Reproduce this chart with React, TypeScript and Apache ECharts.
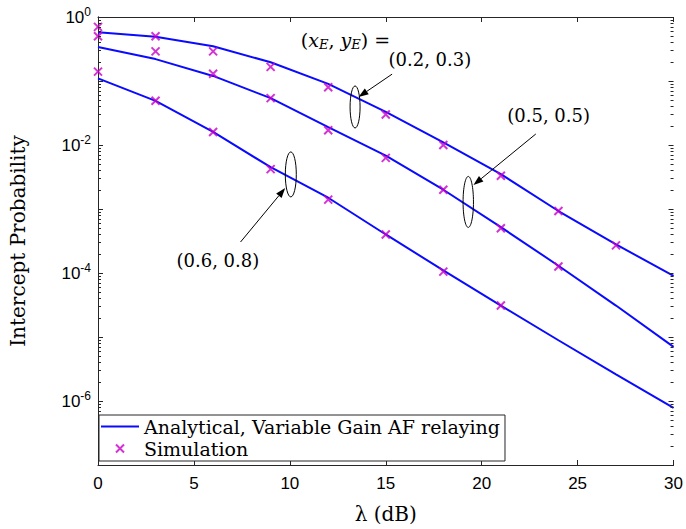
import React, { useEffect, useRef } from 'react';
import * as echarts from 'echarts';

// SNR grid (dB)
const xValues = [0, 3, 6, 9, 12, 15, 18, 21, 24, 27, 30];
// Analytical curves
const analyticalA = [0.58, 0.49, 0.35, 0.196, 0.09, 0.033, 0.011, 0.0035, 9.3e-4, 2.8e-4, 9e-5]; // (0.2,0.3)
const analyticalB = [0.34, 0.22, 0.12, 0.054, 0.019, 0.0068, 0.002, 5.2e-4, 1.3e-4, 3.1e-5, 7e-6]; // (0.5,0.5)
const analyticalC = [0.11, 0.049, 0.016, 4.5e-3, 1.5e-3, 4e-4, 1.1e-4, 3.1e-5, 8.9e-6, 2.6e-6, 7.8e-7]; // (0.6,0.8)
// Simulation points
const simXA = [0, 3, 6, 9, 12, 15, 18, 21, 24, 27];
const simA = [0.7, 0.5, 0.29, 0.166, 0.08, 0.03, 0.01, 0.0033, 9.3e-4, 2.7e-4];
const simXB = [0, 3, 6, 9, 12, 15, 18, 21, 24];
const simB = [0.5, 0.29, 0.13, 0.054, 0.017, 0.0063, 0.002, 5e-4, 1.26e-4];
const simXC = [0, 3, 6, 9, 12, 15, 18, 21];
const simC = [0.14, 0.049, 0.016, 4.2e-3, 1.4e-3, 4e-4, 1.05e-4, 3.1e-5];

const xTicks = [0, 5, 10, 15, 20, 25, 30];
const analyticalName = 'Analytical, Variable Gain AF relaying';
const simName = 'Simulation';

// Annotations in data coordinates
const ellipses = [
  { x: 13.4, y: 0.0393, rx: 5, ry: 21 },
  { x: 19.3, y: 1.29e-3, rx: 5.2, ry: 25.5 },
  { x: 10.05, y: 3.47e-3, rx: 5.5, ry: 22.5 },
];
const arrows = [
  { from: [15.33, 0.128], to: [13.58, 0.0562] },
  { from: [22.82, 0.01486], to: [19.57, 2.37e-3] },
  { from: [7.43, 3.05e-4], to: [9.76, 2.13e-3] },
];
const labels = [
  { x: 12.9, y: 0.44, parts: 'head' },
  { x: 17.3, y: 0.213, text: '(0.2, 0.3)' },
  { x: 23.49, y: 0.0284, text: '(0.5, 0.5)' },
  { x: 6.25, y: 1.55e-4, text: '(0.6, 0.8)' },
];

const BLUE = '#0a0aff';
const MAG = '#c800c8';
const AX = '#262626';
const SERIF = 'DejaVu Serif';
const SANS = 'Liberation Sans';
const XMARK = 'path://M0,0L10,10M10,0L0,10';
const LINEICON = 'path://M0,0L40,0L40,2.2L0,2.2Z';

function zip(xs: number[], ys: number[]) {
  return xs.map((x, i) => [x, ys[i]]);
}

export default function App() {
  const ref = useRef<HTMLDivElement>(null);
  useEffect(() => {
    const chart = echarts.init(ref.current!, null, { renderer: 'svg' });
    const lineSeries = (d: number[]) => ({
      type: 'line',
      name: analyticalName,
      data: zip(xValues, d),
      symbol: 'none',
      showSymbol: false,
      lineStyle: { color: BLUE, width: 2 },
      itemStyle: { color: BLUE },
      xAxisIndex: 0,
      yAxisIndex: 0,
      z: 2,
    });
    const simSeries = (xs: number[], d: number[]) => ({
      type: 'scatter',
      name: simName,
      data: zip(xs, d),
      symbol: XMARK,
      symbolSize: 8,
      itemStyle: { color: MAG, borderColor: MAG, borderWidth: 2 },
      xAxisIndex: 0,
      yAxisIndex: 0,
      z: 3,
    });
    const option: any = {
      animation: false,
      grid: { left: 94, right: 9, top: 17, bottom: 64 },
      legend: {
        data: [
          { name: analyticalName, icon: LINEICON, itemStyle: { color: BLUE } },
          { name: simName },
        ],
        orient: 'vertical',
        left: 99,
        top: 415,
        align: 'left',
        itemWidth: 38,
        itemHeight: 8,
        itemGap: 3,
        padding: [2, 5, 3, 2],
        borderColor: AX,
        borderWidth: 1,
        backgroundColor: '#fff',
        textStyle: { fontFamily: SERIF, fontSize: 19, lineHeight: 18, color: '#000' },
        selectedMode: false,
        z: 10,
      },
      xAxis: [
        {
          type: 'value',
          min: 0,
          max: 30,
          interval: 5,
          position: 'bottom',
          name: 'λ (dB)',
          nameLocation: 'middle',
          nameGap: 39,
          nameTextStyle: { fontFamily: SERIF, fontSize: 20, color: '#000' },
          axisLine: { show: true, lineStyle: { color: AX, width: 1 } },
          axisTick: { show: true, inside: true, length: 5, lineStyle: { color: AX } },
          axisLabel: {
            fontFamily: SANS,
            fontSize: 17,
            color: '#000',
            margin: 10,
            formatter: (v: number) => (xTicks.includes(v) ? String(v) : ''),
          },
          splitLine: { show: false },
        },
        {
          type: 'value',
          min: 0,
          max: 30,
          interval: 5,
          position: 'top',
          axisLine: { show: true, lineStyle: { color: AX, width: 1 } },
          axisTick: { show: true, inside: true, length: 5, lineStyle: { color: AX } },
          axisLabel: { show: false },
          splitLine: { show: false },
        },
      ],
      yAxis: [
        {
          type: 'log',
          logBase: 10,
          min: 1e-7,
          max: 1,
          position: 'left',
          name: 'Intercept Probability',
          nameLocation: 'middle',
          nameGap: 70,
          nameRotate: 90,
          nameTextStyle: { fontFamily: SERIF, fontSize: 20, color: '#000' },
          axisLine: { show: true, lineStyle: { color: AX, width: 1 } },
          axisTick: { show: false },
          axisLabel: {
            margin: 7,
            formatter: (v: number) => {
              const e = Math.round(Math.log10(v));
              return e % 2 === 0 ? `{b|10}{s|${e}}` : '';
            },
            rich: {
              b: { fontFamily: SANS, fontSize: 17, color: '#000' },
              s: { fontFamily: SANS, fontSize: 12, color: '#000', verticalAlign: 'bottom', padding: [0, 0, 10, 0] },
            },
          },
          splitLine: { show: false },
        },
        {
          type: 'log',
          logBase: 10,
          min: 1e-7,
          max: 1,
          position: 'right',
          axisLine: { show: true, lineStyle: { color: AX, width: 1 } },
          axisTick: { show: false },
          axisLabel: { show: false },
          splitLine: { show: false },
        },
      ],
      series: [
        lineSeries(analyticalA),
        lineSeries(analyticalB),
        lineSeries(analyticalC),
        simSeries(simXA, simA),
        simSeries(simXB, simB),
        simSeries(simXC, simC),
      ],
    };
    chart.setOption(option);

    const toPx = (p: number[]) => chart.convertToPixel({ xAxisIndex: 0, yAxisIndex: 0 }, p) as number[];
    const g: any[] = [];
    // y ticks (major and minor, log spaced) on left and right
    const left = toPx([0, 1])[0];
    const right = toPx([30, 1])[0];
    for (let e = -7; e <= 0; e++) {
      for (let k = 1; k <= 9; k++) {
        if (e === 0 && k > 1) break;
        const v = k * Math.pow(10, e);
        const py = Math.round(toPx([0, v])[1]) + 0.5;
        const len = k === 1 ? 5 : 3;
        g.push({ type: 'line', silent: true, shape: { x1: left, y1: py, x2: left + len, y2: py }, style: { stroke: AX, lineWidth: 1 }, z: 5 });
        g.push({ type: 'line', silent: true, shape: { x1: right, y1: py, x2: right - len, y2: py }, style: { stroke: AX, lineWidth: 1 }, z: 5 });
      }
    }
    ellipses.forEach((el) => {
      const [cx, cy] = toPx([el.x, el.y]);
      g.push({ type: 'ellipse', silent: true, shape: { cx, cy, rx: el.rx, ry: el.ry }, style: { fill: 'none', stroke: '#000', lineWidth: 1 }, z: 6 });
    });
    arrows.forEach((a) => {
      const [x1, y1] = toPx(a.from);
      const [x2, y2] = toPx(a.to);
      const ang = Math.atan2(y2 - y1, x2 - x1);
      const L = 10, W = 3.5;
      const bx = x2 - L * Math.cos(ang), by = y2 - L * Math.sin(ang);
      const nx = -Math.sin(ang), ny = Math.cos(ang);
      g.push({ type: 'line', silent: true, shape: { x1, y1, x2: bx, y2: by }, style: { stroke: '#000', lineWidth: 1 }, z: 6 });
      g.push({
        type: 'polygon', silent: true,
        shape: { points: [[x2, y2], [bx + nx * W, by + ny * W], [bx - nx * W, by - ny * W]] },
        style: { fill: '#000' }, z: 6,
      });
    });
    labels.forEach((l: any) => {
      const [x, y] = toPx([l.x, l.y]);
      if (l.parts === 'head') {
        g.push({
          type: 'text', silent: true, x, y, z: 6,
          style: {
            text: '{n|(}{i|x}{sub|E}{n|, }{i|y}{sub|E}{n|) =}',
            align: 'center', verticalAlign: 'middle',
            rich: {
              n: { fontFamily: SERIF, fontSize: 19, fill: '#000' },
              i: { fontFamily: SERIF, fontSize: 19, fontStyle: 'italic', fill: '#000' },
              sub: { fontFamily: SERIF, fontSize: 13, fontStyle: 'italic', fill: '#000', verticalAlign: 'top', padding: [9, 0, 0, 0] },
            },
          },
        });
      } else {
        g.push({
          type: 'text', silent: true, x, y, z: 6,
          style: { text: l.text, fontFamily: SERIF, fontSize: 18, fill: '#000', align: 'center', verticalAlign: 'middle' },
        });
      }
    });
    chart.setOption({ graphic: g });
    return () => chart.dispose();
  }, []);
  return <div ref={ref} style={{ position: 'fixed', left: 0, top: 0, width: 686, height: 529, background: '#fff' }} />;
}
